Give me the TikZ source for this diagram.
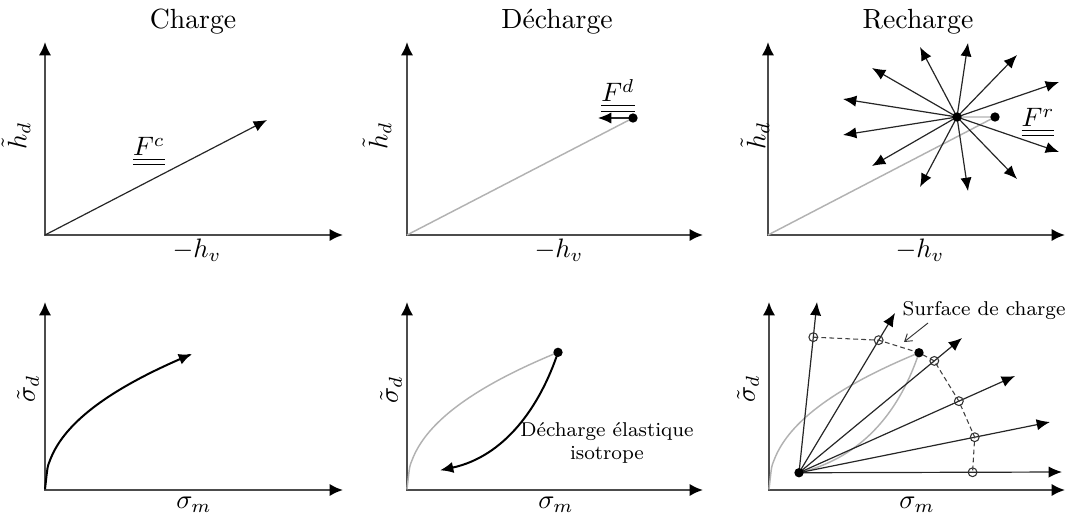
\documentclass[tikz,border=0pt]{standalone}
\usepackage{fontspec}
\usetikzlibrary{arrows.meta,calc}
\begin{document}
\begin{tikzpicture}[x=0.375pt,y=-0.375pt,
  axes/.style={draw=black!70,line width=0.8pt,{Latex[length=5pt,width=4.6pt,color=black]}-{Latex[length=5pt,width=4.6pt,color=black]}},
  vec/.style={draw=black!85,line width=0.45pt,-{Latex[length=5pt,width=4.2pt,color=black]}},
  curv/.style={draw=black,line width=0.75pt},
  past/.style={draw=black!30,line width=0.55pt},
  dot/.style={circle,fill=black,inner sep=0pt,minimum size=3.5pt},
  odot/.style={circle,draw=black!80,line width=0.4pt,inner sep=0pt,minimum size=3.3pt},
  ttl/.style={font=\fontsize{10.4}{12.5}\selectfont},
  lbl/.style={font=\fontsize{7.5}{8.6}\selectfont,align=center},
  surf/.style={draw=black!75,line width=0.4pt,dash pattern=on 1.8pt off 1.2pt},
  pointer/.style={draw=black!80,line width=0.35pt,-{Straight Barb[length=2.6pt,width=3.4pt]}}
]
\useasboundingbox (0,0) rectangle (1070,525);

% ---------------- Panel 1 : Charge ----------------
\coordinate (O1) at (45,235); \coordinate (Y1) at (45,42); \coordinate (X1) at (343,235);
\draw[axes] (Y1) -- (O1) -- (X1);
\node[ttl] (t1) at (193,22) {Charge};
\node[rotate=90] (yl1) at (16,136) {$\tilde h_d$};
\node (xl1) at (197,250) {$-h_v$};
\coordinate (Fc) at (267,120);
\draw[vec] (O1) -- (Fc);
\node (lFc) at (149,152) {$\underline{\underline{F^c}}$};

% ---------------- Panel 2 : Décharge ----------------
\coordinate (O2) at (407,235); \coordinate (Y2) at (407,42); \coordinate (X2) at (703,235);
\draw[axes] (Y2) -- (O2) -- (X2);
\node[ttl] (t2) at (557,22) {Décharge};
\node[rotate=90] (yl2) at (377,136) {$\tilde h_d$};
\node (xl2) at (559,250) {$-h_v$};
\coordinate (P2) at (633,118);
\coordinate (Fd) at (598,118);
\draw[past] (O2) -- (P2);
\draw[vec] (P2) -- (Fd);
\node[dot] (D2) at (P2) {};
\node (lFd) at (618,96) {$\underline{\underline{F^d}}$};

% ---------------- Panel 3 : Recharge ----------------
\coordinate (O3) at (768,235); \coordinate (Y3) at (768,42); \coordinate (X3) at (1065,235);
\draw[axes] (Y3) -- (O3) -- (X3);
\node[ttl] (t3) at (918,22) {Recharge};
\node[rotate=90] (yl3) at (755,136) {$\tilde h_d$};
\node (xl3) at (920,250) {$-h_v$};
\coordinate (C3) at (957,117);
\coordinate (P3) at (995,117);
\draw[past] (O3) -- (P3) -- (C3);
\foreach \dx/\dy [count=\i] in {11/-74,-37/-70,60/-62,-85/-49,102/-35,-114/-18,
                                11/74,-37/70,60/62,-85/49,102/35,-114/18}{
  \coordinate (r\i) at ($(C3)+(\dx,\dy)$);
  \draw[vec] (C3) -- (r\i);
}
\node[dot] (D3c) at (C3) {};
\node[dot] (D3) at (P3) {};
\node (lFr) at (1038,123) {$\underline{\underline{F^r}}$};

% ---------------- Panel 4 : Charge (contraintes) ----------------
\coordinate (O4) at (45,490); \coordinate (Y4) at (45,302); \coordinate (X4) at (343,490);
\draw[axes] (Y4) -- (O4) -- (X4);
\node[rotate=90] (yl4) at (28,389) {$\tilde\sigma_d$};
\node (xl4) at (194,505) {$\sigma_m$};
\draw[curv,-{Latex[length=5pt,width=4.2pt]}] plot[domain=0.001:147,samples=60,smooth]
  ({45+\x},{490-14.4*pow(\x,0.45)});

% ---------------- Panel 5 : Décharge (contraintes) ----------------
\coordinate (O5) at (407,490); \coordinate (Y5) at (407,302); \coordinate (X5) at (703,490);
\draw[axes] (Y5) -- (O5) -- (X5);
\node[rotate=90] (yl5) at (391,390) {$\tilde\sigma_d$};
\node (xl5) at (556,505) {$\sigma_m$};
\coordinate (P5) at ({407+151},{490-14.4*pow(151,0.45)});
\coordinate (E5) at ($(P5)+(-118,118)$);
\draw[past] plot[domain=0.001:151,samples=60,smooth] ({407+\x},{490-14.4*pow(\x,0.45)});
\draw[curv,-{Latex[length=5pt,width=4.2pt]}] (P5) .. controls ($(P5)+(-18,54)$) and ($(P5)+(-53,104)$) .. (E5);
\node[dot] (D5) at (P5) {};
\node[lbl] (l5) at (607,443) {Décharge élastique\\isotrope};

% ---------------- Panel 6 : Recharge (contraintes) ----------------
\coordinate (O6) at (769,490); \coordinate (Y6) at (769,302); \coordinate (X6) at (1065,490);
\draw[axes] (Y6) -- (O6) -- (X6);
\node[rotate=90] (yl6) at (748,389) {$\tilde\sigma_d$};
\node (xl6) at (917,505) {$\sigma_m$};
\coordinate (P6) at ({769+150},{490-14.4*pow(150,0.45)});
\coordinate (B6) at ($(P6)+(-120,120)$);
\draw[past] plot[domain=0.001:150,samples=60,smooth] ({769+\x},{490-14.4*pow(\x,0.45)});
\draw[past] (P6) .. controls ($(P6)+(-18,54)$) and ($(P6)+(-53,104)$) .. (B6);
\foreach \ex/\ey/\fr [count=\i] in {817/302/0.794,895/313/0.83,962/338/0.83,1015/376/0.74,1050/422/0.70,1062/472/0.66}{
  \coordinate (R\i) at (\ex,\ey);
  \draw[vec] (B6) -- (R\i);
  \coordinate (s\i) at ($(B6)!\fr!(R\i)$);
}
\draw[surf] (s1) -- (s2) -- (P6) -- (s3) -- (s4) -- (s5) -- (s6);
\foreach \i in {1,...,6}{ \node[odot] (c\i) at (s\i) {}; }
\node[dot] (D6) at (P6) {};
\node[dot] (D6b) at (B6) {};
\node[lbl] (l6) at (984,311) {Surface de charge};
\coordinate (a6s) at (928,323);
\coordinate (a6e) at (904,342);
\draw[pointer] (a6s) -- (a6e);
\end{tikzpicture}
\end{document}
